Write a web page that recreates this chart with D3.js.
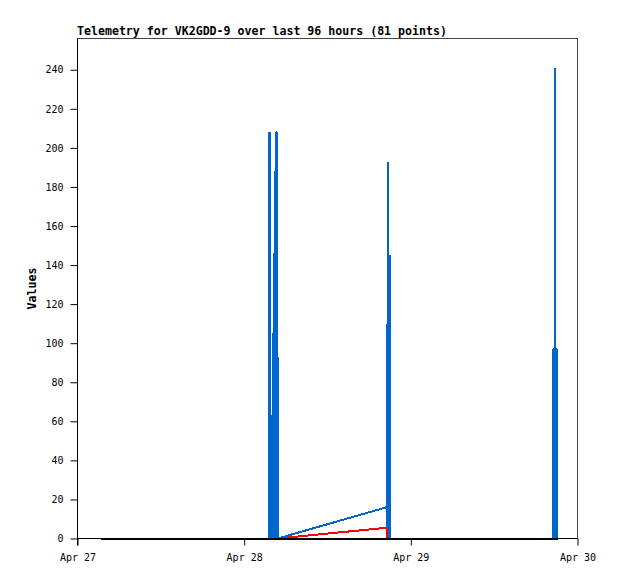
<!DOCTYPE html>
<html>
<head>
<meta charset="utf-8">
<script src="https://cdn.jsdelivr.net/npm/d3@7"></script>
<style>
  html, body { margin: 0; padding: 0; background: #fff; }
  svg { display: block; }
</style>
</head>
<body>
<script>
// ---- Data ----
const titleText = "Telemetry for VK2GDD-9 over last 96 hours (81 points)";
const yLabel = "Values";
const xDomain = ["2024-04-27 00:00", "2024-04-30 00:00"];
const yTicks = [0, 20, 40, 60, 80, 100, 120, 140, 160, 180, 200, 220, 240];
const yMax = 256;

const times = [
  "2024-04-27 03:27","2024-04-27 05:12","2024-04-27 07:03","2024-04-27 08:49",
  "2024-04-27 10:35","2024-04-27 12:18","2024-04-27 14:06","2024-04-27 15:52",
  "2024-04-27 17:40","2024-04-27 19:25","2024-04-27 21:13","2024-04-27 22:58",
  "2024-04-28 00:44","2024-04-28 02:31","2024-04-28 03:31",
  // cluster 1
  "2024-04-28 03:35","2024-04-28 03:39","2024-04-28 03:42","2024-04-28 03:51",
  "2024-04-28 03:54","2024-04-28 03:56","2024-04-28 04:01","2024-04-28 04:05",
  "2024-04-28 04:10","2024-04-28 04:13","2024-04-28 04:19","2024-04-28 04:22",
  "2024-04-28 04:27","2024-04-28 04:31","2024-04-28 04:37","2024-04-28 04:42",
  "2024-04-28 04:46","2024-04-28 04:50",
  // cluster 2
  "2024-04-28 20:30","2024-04-28 20:32","2024-04-28 20:36","2024-04-28 20:38",
  "2024-04-28 20:42","2024-04-28 20:45","2024-04-28 20:50","2024-04-28 20:54",
  "2024-04-28 20:58","2024-04-28 21:03",
  // quiet day
  "2024-04-29 02:10","2024-04-29 08:40","2024-04-29 14:20","2024-04-29 20:31",
  // cluster 3
  "2024-04-29 20:32","2024-04-29 20:36","2024-04-29 20:37","2024-04-29 20:39",
  "2024-04-29 20:41","2024-04-29 20:43","2024-04-29 20:43","2024-04-29 20:44",
  "2024-04-29 20:47","2024-04-29 20:49","2024-04-29 20:51","2024-04-29 20:53",
  "2024-04-29 20:55","2024-04-29 20:57","2024-04-29 20:59","2024-04-29 21:01",
  "2024-04-29 21:03","2024-04-29 21:05","2024-04-29 21:09"
];

const blueValues = [
  0,0,0,0, 0,0,0,0, 0,0,0,0, 0,0,0,
  0,208,0,0, 21,0,63,0, 105,0,146,0, 188,0,208,208, 193,0,
  16,97,0,97, 193,0,145,0, 145,0,
  0,0,0,0,
  97,97,0,97, 97,97,241,97, 97,0,97,0, 97,97,0,97, 97,17,17
];

const redValues = [
  0,0,0,0, 0,0,0,0, 0,0,0,0, 0,0,0,
  0,0,0,0, 0,0,0,0, 0,0,0,0, 0,0,0,0, 0,0,
  5.5,0,0,0, 0,0,0,0, 0,0,
  0,0,0,0,
  0,0,0,0, 0,0,0,0, 0,0,0,0, 0,0,0,0, 0,0,0
];

const blackValues = [
  0,0,0,0, 0,0,0,0, 0,0,0,0, 0,0,0,
  0,0,0,0, 0,0,0,0, 0,0,0,0, 0,0,0,0, 0,0,
  0,0,0,0, 0,0,0,0, 0,0,
  0,0,0,0,
  0,0,0,0, 0,0,0,0, 0,0,0,0, 0,0,0,0, 0,0,0
];

const seriesColors = ["#0066cc", "#ff0000", "#000000"];

// ---- Drawing ----
const W = 618, H = 579;
const plot = { left: 77.5, right: 577.5, top: 38.5, bottom: 538.5 };
const parse = d3.timeParse("%Y-%m-%d %H:%M");

const x = d3.scaleTime()
  .domain(xDomain.map(parse))
  .range([plot.left, plot.right]);
const y = d3.scaleLinear()
  .domain([0, yMax])
  .range([plot.bottom, plot.top]);

const svg = d3.select("body").append("svg")
  .attr("width", W).attr("height", H)
  .attr("font-family", "'DejaVu Sans Mono', 'Liberation Mono', monospace");

svg.append("rect").attr("width", W).attr("height", H).attr("fill", "#fff");

// frame
svg.append("rect")
  .attr("x", plot.left).attr("y", plot.top)
  .attr("width", plot.right - plot.left).attr("height", plot.bottom - plot.top)
  .attr("fill", "none").attr("stroke", "#444").attr("stroke-width", 1);

// series
const allSeries = [blueValues, redValues, blackValues];
const line = d3.line()
  .x(d => x(d.t))
  .y(d => y(d.v));
allSeries.forEach((vals, i) => {
  const data = times.map((t, k) => ({ t: parse(t), v: vals[k] }));
  svg.append("path")
    .datum(data)
    .attr("d", line)
    .attr("fill", "none")
    .attr("stroke", seriesColors[i])
    .attr("stroke-width", 2)
    .attr("stroke-linejoin", "bevel")
    .attr("shape-rendering", "crispEdges");
});

// y axis
const yAxis = d3.axisLeft(y).tickValues(yTicks).tickSize(7).tickPadding(7);
const gy = svg.append("g")
  .attr("transform", `translate(${plot.left},0)`)
  .call(yAxis);
gy.select(".domain").attr("stroke", "#000").attr("d", `M0,${plot.top}V${plot.bottom + 7}`);
gy.selectAll(".tick line").attr("stroke", "#000");
gy.selectAll(".tick text")
  .attr("font-size", "10px")
  .attr("font-family", "'DejaVu Sans Mono', monospace")
  .attr("fill", "#000");

// x axis
const xAxis = d3.axisBottom(x)
  .ticks(d3.timeDay.every(1))
  .tickFormat(d3.timeFormat("%b %d"))
  .tickSize(7).tickPadding(8);
const gx = svg.append("g")
  .attr("transform", `translate(0,${plot.bottom})`)
  .call(xAxis);
gx.select(".domain").attr("stroke", "#000").attr("d", `M${plot.left},0H${plot.right}`);
gx.selectAll(".tick line").attr("stroke", "#000");
gx.selectAll(".tick text")
  .attr("font-size", "10px")
  .attr("font-family", "'DejaVu Sans Mono', monospace")
  .attr("fill", "#000");

// title
svg.append("text")
  .attr("x", 77).attr("y", 35)
  .attr("font-size", "11.6px")
  .attr("font-weight", "bold")
  .attr("fill", "#000")
  .text(titleText);

// y label
svg.append("text")
  .attr("transform", `translate(36,${(plot.top + plot.bottom) / 2}) rotate(-90)`)
  .attr("text-anchor", "middle")
  .attr("font-size", "11.6px")
  .attr("font-weight", "bold")
  .attr("fill", "#000")
  .text(yLabel);
</script>
</body>
</html>
